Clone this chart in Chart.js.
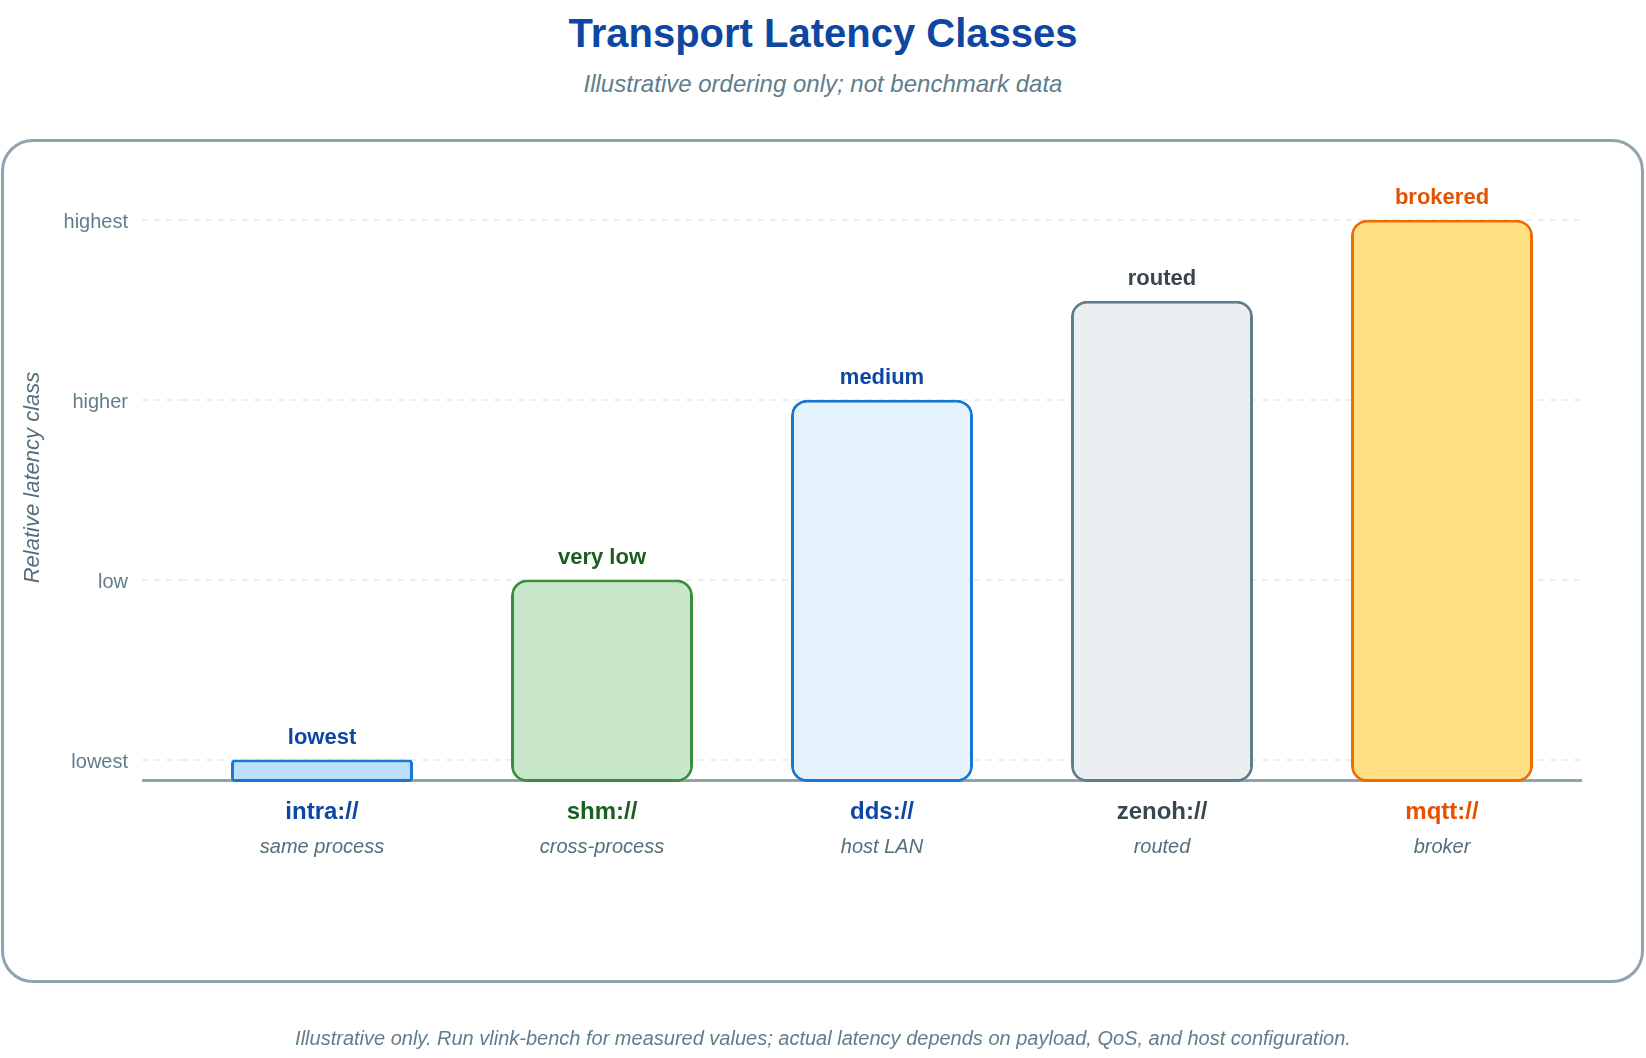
<!DOCTYPE html>
<html>
<head>
<meta charset="utf-8">
<title>Transport Latency Classes</title>
<script src="https://cdn.jsdelivr.net/npm/chart.js@4/dist/chart.umd.min.js"></script>
<style>
  html, body { margin: 0; padding: 0; background: #ffffff; }
  body { width: 1646px; height: 1058px; position: relative; overflow: hidden;
         font-family: "Liberation Sans", Arial, sans-serif; }
  .title { position: absolute; left: 0; width: 100%; top: 13px; line-height: 40px;
           text-align: center; font-size: 40px; font-weight: bold; color: #0d47a1; }
  .subtitle { position: absolute; left: 0; width: 100%; top: 72px; line-height: 24px;
              text-align: center; font-size: 24px; font-style: italic; color: #607d8b; }
  .panel { position: absolute; left: 1px; top: 139px; width: 1643px; height: 844px;
           box-sizing: border-box; border: 3px solid #90a4ae; border-radius: 32px; }
  .footnote { position: absolute; left: 0; width: 100%; top: 1027px; line-height: 22px;
              text-align: center; font-size: 20px; font-style: italic; color: #607d8b; }
  #chart { position: absolute; left: 0; top: 0; }
</style>
</head>
<body>
<div class="title">Transport Latency Classes</div>
<div class="subtitle">Illustrative ordering only; not benchmark data</div>
<div class="panel"></div>
<canvas id="chart" width="1646" height="1058"></canvas>
<div class="footnote">Illustrative only. Run vlink-bench for measured values; actual latency depends on payload, QoS, and host configuration.</div>

<script>
// data
const categories = ["intra://", "shm://", "dds://", "zenoh://", "mqtt://"];
const scopes = ["same process", "cross-process", "host LAN", "routed", "broker"];
const classLabels = ["lowest", "very low", "medium", "routed", "brokered"];
const latencyLevel = [1, 2, 3, 3.55, 4];
const yTickValues = [1, 2, 3, 4];
const yTickLabels = ["lowest", "low", "higher", "highest"];

// styles
const FONT = '"Liberation Sans", Arial, sans-serif';
const fillColors = ["#bbdefb", "#c8e6c9", "#e3f2fd", "#eceff1", "#ffe082"];
const edgeColors = ["#1976d2", "#388e3c", "#1976d2", "#607d8b", "#ef6c00"];
const textColors = ["#0d47a1", "#1b5e20", "#0d47a1", "#37474f", "#e65100"];
const Y_MIN = 0.875;

Chart.defaults.font.family = FONT;

// baseline under the bars, runs out under the tick marks
const baselinePlugin = {
    id: "baseline",
    beforeDatasetsDraw(chart) {
        const { ctx, chartArea } = chart;
        ctx.save();
        ctx.strokeStyle = "#90a4ae";
        ctx.lineWidth = 3;
        ctx.beginPath();
        ctx.moveTo(chartArea.left - 40, chartArea.bottom - 1.5);
        ctx.lineTo(chartArea.right, chartArea.bottom - 1.5);
        ctx.stroke();
        ctx.restore();
    }
};

const barLabelsPlugin = {
    id: "barLabels",
    afterDatasetsDraw(chart) {
        const { ctx, chartArea } = chart;
        const meta = chart.getDatasetMeta(0);
        ctx.save();
        ctx.textAlign = "center";
        ctx.textBaseline = "middle";
        meta.data.forEach((bar, i) => {
            ctx.fillStyle = textColors[i];
            ctx.font = "bold 22px " + FONT;
            ctx.fillText(classLabels[i], bar.x, bar.y - 22);
            ctx.font = "bold 24px " + FONT;
            ctx.fillText(categories[i], bar.x, chartArea.bottom + 30);
            ctx.fillStyle = "#546e7a";
            ctx.font = "italic 20px " + FONT;
            ctx.fillText(scopes[i], bar.x, chartArea.bottom + 65);
        });
        ctx.restore();
    }
};

const ctx = document.getElementById("chart");

const graph = new Chart(ctx, {
    type: "bar",
    data: {
        labels: categories,
        datasets: [
            {
                data: latencyLevel,
                base: Y_MIN,
                backgroundColor: fillColors,
                borderColor: edgeColors,
                borderWidth: 3,
                borderRadius: [4, 16, 16, 16, 16],
                borderSkipped: false,
                barPercentage: 0.65,
                categoryPercentage: 1
            }
        ]
    },
    options: {
        responsive: false,
        animation: false,
        devicePixelRatio: 1,
        layout: {
            padding: { left: 16, right: 64, top: 173, bottom: 176 }
        },
        scales: {
            x: {
                grid: { display: false },
                border: { display: false },
                ticks: { display: false },
                afterFit: function(scale) {
                    scale.height = 100;
                }
            },
            y: {
                min: Y_MIN,
                max: 4.26,
                afterBuildTicks: function(scale) {
                    scale.ticks = yTickValues.map(v => ({ value: v }));
                },
                afterFit: function(scale) {
                    scale.width = 166;
                },
                grid: {
                    color: "#eceff1",
                    lineWidth: 2,
                    tickLength: 40,
                    tickColor: "#eceff1",
                    tickWidth: 2,
                    tickBorderDash: [6, 6]
                },
                border: { display: false, dash: [6, 6] },
                ticks: {
                    padding: 14,
                    labelOffset: 3,
                    color: "#607d8b",
                    font: { size: 20 },
                    callback: function(value) {
                        const idx = yTickValues.indexOf(value);
                        return idx >= 0 ? yTickLabels[idx] : "";
                    }
                },
                title: {
                    display: true,
                    text: "Relative latency class",
                    color: "#546e7a",
                    padding: { top: 4, bottom: 4 },
                    font: { size: 22, style: "italic" }
                }
            }
        },
        plugins: {
            legend: { display: false },
            tooltip: { enabled: false }
        }
    },
    plugins: [baselinePlugin, barLabelsPlugin]
});
</script>
</body>
</html>
